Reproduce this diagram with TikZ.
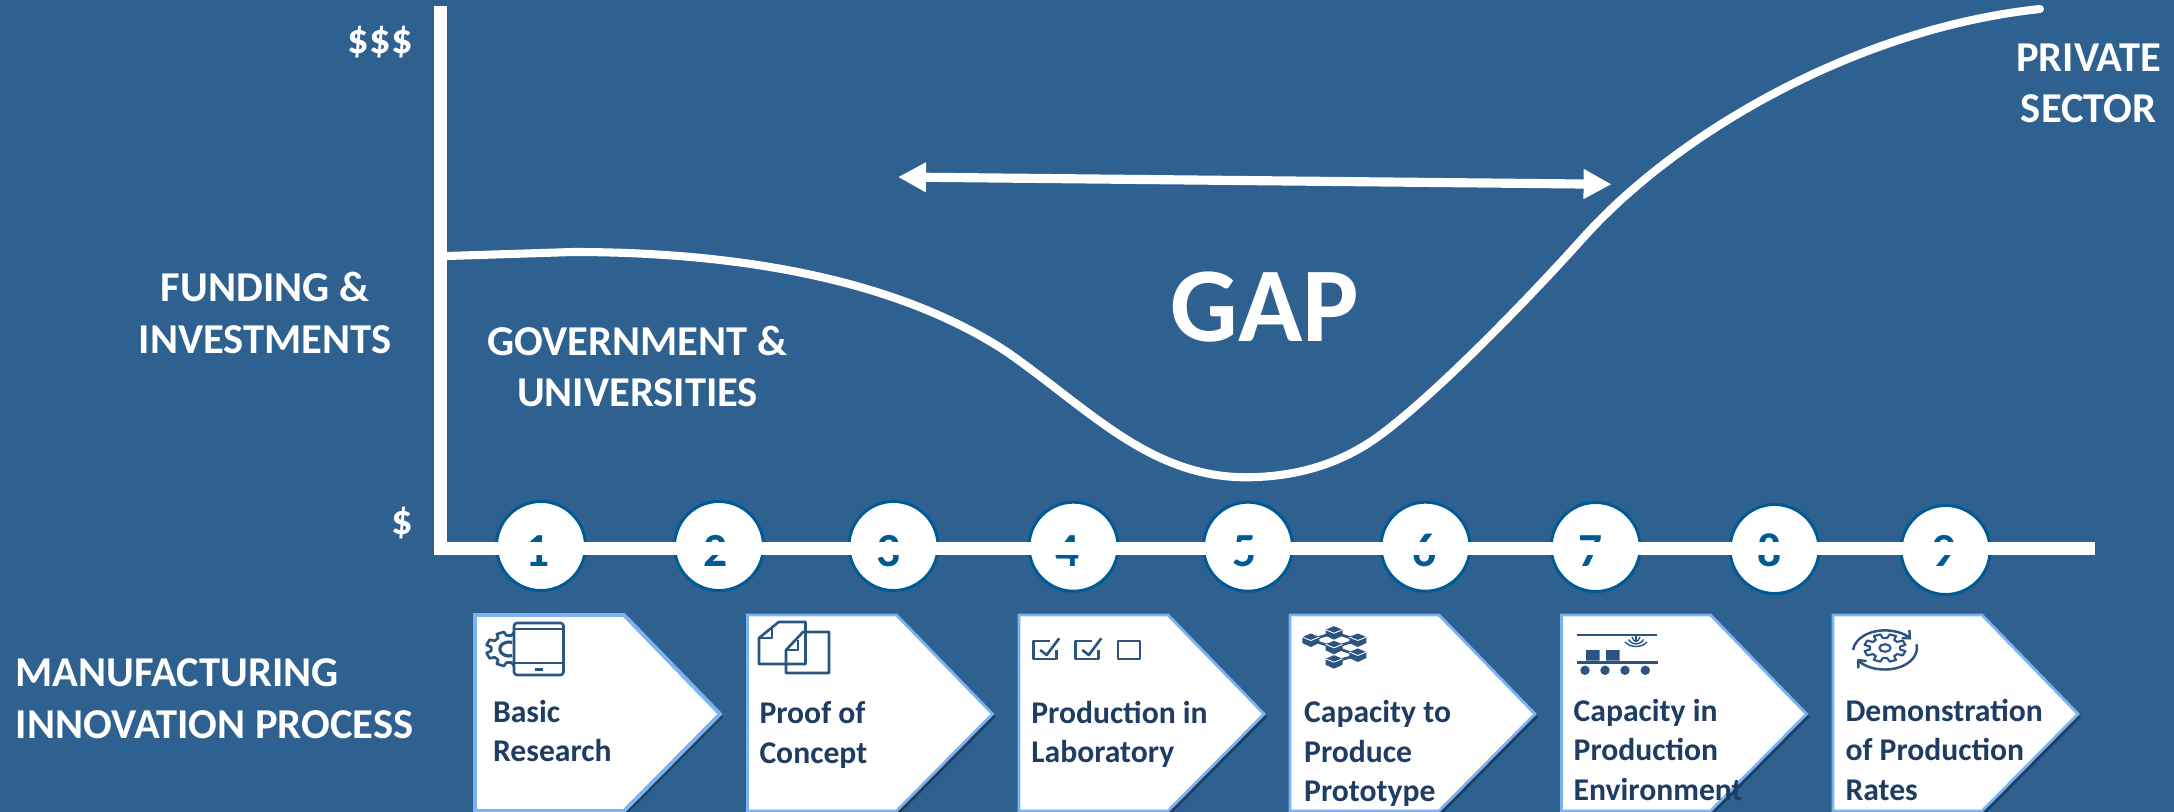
\documentclass[tikz,border=0pt]{standalone}
\usepackage{fontspec}
\setmainfont{Carlito}
\usetikzlibrary{arrows.meta,shadows}
\definecolor{bgblue}{HTML}{2E6090}
\definecolor{numblue}{HTML}{005A94}
\definecolor{edgeblue}{HTML}{7CB2EE}
\definecolor{stepink}{HTML}{1F3D63}
\definecolor{iconink}{HTML}{2B5580}
\tikzset{
    headtext/.style={text=white,font=\bfseries\fontsize{12.1}{14.7}\selectfont,align=center,inner sep=0pt},
    gaptext/.style={text=white,font=\bfseries\fontsize{30.2}{34}\selectfont,inner sep=0pt},
    steptext/.style={text=stepink,font=\bfseries\fontsize{9}{11.2}\selectfont,align=left,inner sep=0pt,anchor=base west},
    numcircle/.style={circle,draw=numblue,fill=white,line width=.85pt,minimum size=.89cm,inner sep=0pt},
    numtext/.style={text=numblue,font=\bfseries\fontsize{13.5}{15}\selectfont,inner sep=0pt,anchor=base},
    axisline/.style={draw=white,line width=3.8pt,line join=miter},
    curveline/.style={draw=white,line width=2.3pt,line cap=round},
    gaparrow/.style={draw=white,line width=2.6pt,{Triangle[length=.28cm,width=.28cm]}-{Triangle[length=.28cm,width=.28cm]}},
    stepbox/.style={draw=edgeblue,fill=white,drop shadow={shadow xshift=.03cm,shadow yshift=-.03cm,opacity=.35,fill=black}},
    iconline/.style={draw=iconink,line width=.75pt,line join=round},
    iconfill/.style={fill=iconink},
}
\begin{document}
\begin{tikzpicture}[x=.01cm,y=-.01cm]
    \path[use as bounding box,fill=bgblue] (0,0) rectangle (2174,812);

    % number circles, the axis runs over them
    \foreach \n/\cx/\cy/\dx in {1/541/546/537.6, 2/719/546/715.5, 3/893.5/546/888.5,
            4/1073.5/546.7/1067.4, 5/1248/546.7/1245, 6/1425.5/546.7/1424.8,
            7/1595.7/547/1591, 8/1774.5/549/1770, 9/1945.6/550/1944}{
        \node[numcircle] (circ\n) at (\cx,\cy) {};
        \node[numtext] (num\n) at (\dx,566) {\n};
    }

    \coordinate (axtop) at (440.5,6);
    \coordinate (axend) at (2095,548.5);
    \draw[axisline] (axtop) |- (axend);

    \coordinate (fundstart) at (447,256);
    \coordinate (fundend) at (2040,9);
    \draw[curveline] (fundstart) -- (573,252)
        .. controls (725,252) and (890,275) .. (1007,352)
        .. controls (1090,410) and (1150,477) .. (1246,477.3)
        .. controls (1300,477) and (1345,462) .. (1383,433)
        .. controls (1440,390) and (1530,297) .. (1583,238)
        .. controls (1680,130) and (1860,28) .. (fundend);

    \coordinate (gapleft) at (898,177);
    \coordinate (gapright) at (1611.6,184.3);
    \draw[gaparrow] (gapleft) -- (gapright);

    \node[gaptext,anchor=base] (gap) at (1265,341.7) {GAP};
    \node[headtext,anchor=base east] (high) at (413.3,53.6) {\$\$\$};
    \node[headtext,anchor=base east] (low) at (413.3,534) {\$};
    \node[headtext,anchor=base] (funding) at (265,353.6) {FUNDING \&\\INVESTMENTS};
    \node[headtext,anchor=base] (gov) at (637.5,406.7) {GOVERNMENT \&\\UNIVERSITIES};
    \node[headtext,anchor=base] (private) at (2088.7,122.7) {PRIVATE\\SECTOR};
    \node[headtext,anchor=base west,align=left] (process) at (15,738) {MANUFACTURING\\INNOVATION PROCESS};

    % pentagons
    \foreach \x/\bw in {475/1.1pt, 747.5/.8pt, 1019/.8pt, 1290/.8pt, 1561.5/.8pt, 1833/.8pt}{
        \draw[stepbox,line width=\bw] (\x,615) -- ++(149,0) -- ++(96,99) -- ++(-96,97) -- (\x,811) -- cycle;
    }

    \node[steptext] (step1) at (492.4,761.7) {Basic\\Research};
    \node[steptext] (step2) at (758.8,763) {Proof of\\Concept};
    \node[steptext] (step3) at (1030.6,762.7) {Production in\\Laboratory};
    \node[steptext] (step4) at (1303.5,801.7) {Capacity to\\Produce\\Prototype};
    \node[steptext] (step5) at (1573,800) {Capacity in\\Production\\Environment};
    \node[steptext] (step6) at (1844.8,800) {Demonstration\\of Production\\Rates};

    % icon 1: gear behind tablet
    \begin{scope}[shift={(509,649)},xscale=23,yscale=17.5]
        \draw[iconline] (0:.78) \foreach \a in {0,45,...,315}{
            -- (\a+8:.78) -- (\a+13:1) -- (\a+32:1) -- (\a+37:.78) } -- cycle;
        \draw[iconline,line width=.9pt] (70:.4) arc[start angle=70,end angle=290,radius=.4];
    \end{scope}
    \draw[iconline,fill=white,rounded corners=.03cm] (514,623) rectangle (563.5,675);
    \draw[iconline] (514,629) -- (563.5,629) (514,663) -- (563.5,663);
    \fill[iconfill] (535,667.5) rectangle (542.5,670.5);

    % icon 2: two sheets
    \draw[iconline] (778.7,622) -- (805.5,622) -- (805.5,664) -- (759,664) -- (759,638) -- cycle;
    \draw[iconline] (759,638) -- (772,638) -- (772,628) (786,650) -- (798,650) -- (798,640);
    \draw[iconline] (803,632) -- (829,632) -- (829,673) -- (786,673) -- (786,650) -- cycle;

    % icon 3: check boxes
    \foreach \bx in {1033.7,1075.8}{
        \draw[iconline] (\bx+16,641) -- (\bx,641) -- (\bx,659) -- (\bx+23,659) -- (\bx+23,650);
        \draw[iconline] (\bx+6.5,650) -- (\bx+13,655) -- (\bx+25.5,638.3);
    }
    \draw[iconline] (1118,641) rectangle (1140,659);

    % icon 4: cubes
    \draw[iconline] (1310.8,640) -- (1334,647.3) -- (1357.8,640) (1334,632.7) -- (1357.8,640)
        (1334,632.7) -- (1310.8,640) (1334,647.3) -- (1357.8,655) -- (1334,661.7);
    \foreach \qx/\qy in {1310.8/640, 1334/632.7, 1357.8/640, 1334/647.3, 1357.8/655, 1334/661.7}{
        \begin{scope}[shift={(\qx,\qy)}]
            \fill[iconfill] (-8.5,-3) -- (0,-6.5) -- (8.5,-3) -- (8.5,3) -- (0,7) -- (-8.5,3) -- cycle;
            \draw[white,line width=.25pt] (-8.5,-3) -- (0,.5) -- (8.5,-3);
        \end{scope}
    }

    % icon 5: conveyor
    \draw[iconline,line width=.5pt] (1576.5,635.3) -- (1657.4,635.3) (1636,635.3) -- (1636,641);
    \foreach \w/\d in {11/648,7.5/645.5,4/643}{
        \draw[iconline,line width=.4pt] ({1636-\w},{\d-6}) .. controls ({1636-\w*.5},\d) and ({1636+\w*.5},\d) .. ({1636+\w},{\d-6});
    }
    \fill[iconfill] (1586,650) rectangle (1599.7,660.7) (1606,650) rectangle (1619.5,660.7);
    \fill[iconfill] (1576.5,661.2) rectangle (1658,664.2);
    \foreach \rx in {1585,1605,1625,1645.3}{
        \fill[iconfill] (\rx,670.3) circle (4.7);
    }

    % icon 6: gear with arrows
    \begin{scope}[shift={(1885,648)},xscale=21,yscale=14]
        \draw[iconline,line width=.6pt] (0:.72) \foreach \a in {0,45,...,315}{
            -- (\a+8:.72) -- (\a+13:1) -- (\a+32:1) -- (\a+37:.72) } -- cycle;
        \draw[iconline,line width=.6pt] (0,0) circle (.27);
    \end{scope}
    \draw[iconline,line width=.7pt,-{Straight Barb[length=.06cm,width=.11cm]}] (1853.1,650) arc[start angle=185,end angle=325,x radius=32,y radius=21.5];
    \draw[iconline,line width=.7pt,-{Straight Barb[length=.06cm,width=.11cm]}] (1916.5,644.3) arc[start angle=-10,end angle=150,x radius=32,y radius=21.5];
\end{tikzpicture}
\end{document}
